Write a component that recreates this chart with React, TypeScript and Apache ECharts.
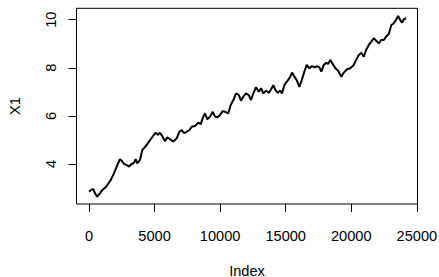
import React, { useEffect, useRef } from "react";
import * as echarts from "echarts";

const indexValues: number[] = [
  0, 175, 328, 435, 633, 839, 1015, 1274, 1449, 1655, 1907, 2113, 2365, 2494, 2670, 2876, 3051, 3227, 3433, 3562,
  3684, 3890, 4066, 4249, 4447, 4577, 4707, 4958, 5088, 5263, 5416, 5591, 5797, 5973, 6179, 6430, 6690, 6888, 7071, 7247,
  7453, 7651, 7834, 8086, 8337, 8521, 8719, 8848, 9024, 9230, 9436, 9611, 9787, 9993, 10199, 10374, 10626, 10809, 11007, 11213,
  11419, 11595, 11770, 11976, 12182, 12357, 12533, 12739, 12945, 13120, 13296, 13502, 13708, 13883, 14059, 14212, 14395, 14570, 14723, 14898,
  15081, 15279, 15485, 15661, 15844, 16042, 16225, 16423, 16606, 16805, 17010, 17216, 17392, 17567, 17720, 17903, 18078, 18231, 18407, 18589,
  18788, 18994, 19246, 19429, 19680, 19932, 20191, 20367, 20573, 20771, 20954, 21130, 21336, 21534, 21717, 21892, 22098, 22297, 22480, 22655,
  22861, 23059, 23242, 23418, 23571, 23746, 23876, 24005, 24181,
];

const x1Values: number[] = [
  2.85, 2.92, 2.97, 2.81, 2.64, 2.78, 2.92, 3.03, 3.17, 3.33, 3.61, 3.89, 4.2, 4.14, 4.0, 3.96, 3.89, 3.99, 4.05, 4.2,
  4.03, 4.17, 4.58, 4.69, 4.83, 4.93, 5.03, 5.21, 5.3, 5.21, 5.3, 5.16, 4.95, 5.11, 5.03, 4.93, 5.07, 5.34, 5.41, 5.28,
  5.34, 5.41, 5.55, 5.58, 5.72, 5.66, 5.97, 6.11, 5.86, 5.97, 6.17, 5.97, 5.94, 6.04, 6.2, 6.17, 6.11, 6.45, 6.66, 6.94,
  6.87, 6.63, 6.8, 6.94, 6.87, 6.66, 6.94, 7.19, 7.01, 7.15, 6.94, 7.05, 6.96, 7.1, 7.28, 7.08, 6.96, 7.05, 6.94, 7.28,
  7.42, 7.56, 7.8, 7.63, 7.49, 7.21, 7.49, 7.84, 8.12, 7.98, 8.07, 8.02, 8.07, 8.02, 7.84, 8.12, 8.21, 8.16, 8.32, 8.16,
  7.98, 7.88, 7.63, 7.8, 7.94, 7.98, 8.12, 8.32, 8.53, 8.63, 8.46, 8.74, 8.95, 9.09, 9.23, 9.13, 9.02, 9.16, 9.16, 9.29,
  9.41, 9.78, 9.85, 10.0, 10.16, 9.97, 9.88, 10.02, 10.06,
];

const xTicks: number[] = [0, 5000, 10000, 15000, 20000, 25000];
const yTicks: number[] = [4, 6, 8, 10];

const FONT = "Liberation Sans, Arial, Helvetica, sans-serif";
const FS = 14.6;

export default function App() {
  const ref = useRef<HTMLDivElement>(null);
  useEffect(() => {
    if (!ref.current) return;
    const chart = echarts.init(ref.current, undefined, { renderer: "svg" });
    const data = indexValues.map((x, i) => [x, x1Values[i]]);
    chart.setOption({
      animation: false,
      backgroundColor: "#ffffff",
      grid: {
        left: 76.5,
        right: 21.5,
        top: 8.3,
        bottom: 73,
        show: true,
        borderColor: "#000",
        borderWidth: 1,
        backgroundColor: "transparent",
        containLabel: false,
        outerBoundsMode: "none",
      },
      xAxis: {
        type: "value",
        min: -950,
        max: 25050,
        name: "Index",
        nameLocation: "middle",
        nameGap: 59,
        nameTextStyle: { fontFamily: FONT, fontSize: FS, color: "#000" },
        axisLine: { show: false, onZero: false },
        splitLine: { show: false },
        axisTick: {
          show: true,
          inside: false,
          length: 8,
          customValues: xTicks,
          lineStyle: { color: "#000", width: 1 },
        },
        axisLabel: {
          customValues: xTicks,
          formatter: (v: number) => String(v),
          margin: 24,
          fontFamily: FONT,
          fontSize: FS,
          color: "#000",
        },
      },
      yAxis: {
        type: "value",
        min: 2.337,
        max: 10.474,
        name: "X1",
        nameLocation: "middle",
        nameRotate: 90,
        nameGap: 54,
        nameTextStyle: { fontFamily: FONT, fontSize: FS, color: "#000" },
        axisLine: { show: false, onZero: false },
        splitLine: { show: false },
        axisTick: {
          show: true,
          inside: false,
          length: 8,
          customValues: yTicks,
          lineStyle: { color: "#000", width: 1 },
        },
        axisLabel: {
          customValues: yTicks,
          formatter: (v: number) => String(v),
          rotate: 90,
          margin: 18,
          fontFamily: FONT,
          fontSize: FS,
          color: "#000",
        },
      },
      series: [
        {
          type: "line",
          data,
          showSymbol: false,
          symbol: "none",
          lineStyle: { color: "#000", width: 2 },
          silent: true,
        },
      ],
    });
    return () => chart.dispose();
  }, []);
  return (
    <div
      ref={ref}
      style={{ position: "fixed", left: 0, top: 0, width: 439, height: 277 }}
    />
  );
}
